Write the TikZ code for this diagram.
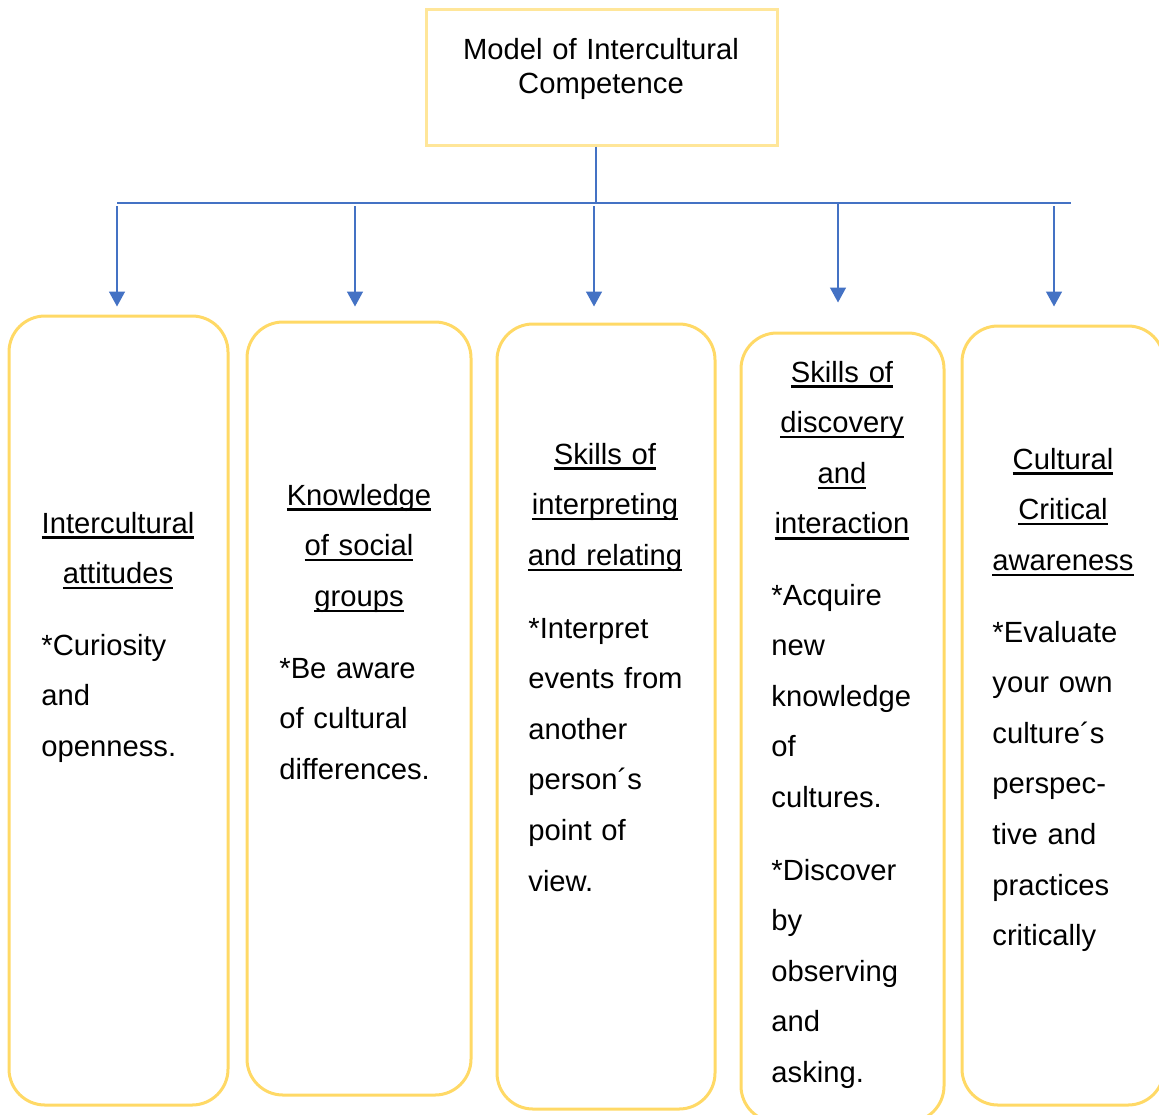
\documentclass[tikz,border=0pt]{standalone}
\usepackage{fontspec}
\setmainfont{Liberation Sans}
\usepackage{xcolor}
\usetikzlibrary{positioning,arrows.meta}

\definecolor{boxgold}{HTML}{FFD966}
\definecolor{topgold}{HTML}{FFE699}
\definecolor{linkblue}{HTML}{4472C4}

\newsavebox{\ulbox}
\newcommand{\ulword}[1]{\leavevmode\sbox\ulbox{#1}\rlap{\rule[-2.9pt]{\wd\ulbox}{1.25pt}}\usebox\ulbox}

\begin{document}
\begin{tikzpicture}[x=0.5pt,y=-0.5pt,
    compbox/.style={draw=boxgold, line width=1.5pt, rounded corners=18pt, inner sep=0pt},
    heading/.style={text width=100pt, align=center, anchor=base, inner sep=0pt,
        font=\fontsize{14.6}{25.3}\selectfont},
    bodytext/.style={text width=90pt, align=left, anchor=base west, inner sep=0pt,
        font=\fontsize{14.6}{25.3}\selectfont},
    bus/.style={draw=linkblue, line width=0.75pt},
    arr/.style={bus, -{Triangle[width=8pt,length=7.5pt]}}]
    \useasboundingbox (0,0) rectangle (1159,1114);
    \clip (0,0) rectangle (1159,1114);

    % Model at the top
    \node[draw=topgold, line width=1.5pt, minimum width=175.5pt, minimum height=68pt] (top) at (601.5,77) {};
    \node[anchor=base, text width=170pt, align=center, inner sep=0pt, font=\fontsize{14.6}{17}\selectfont] (toptxt) at (601,59)
        {Model of Intercultural\\Competence};

    % Five components
    \node[compbox, minimum width=109.5pt, minimum height=394.5pt] (b1) at (118.5,710.5) {};
    \node[compbox, minimum width=112pt, minimum height=386.5pt] (b2) at (359,708.5) {};
    \node[compbox, minimum width=109pt, minimum height=392.5pt] (b3) at (606,716.5) {};
    \node[compbox, minimum width=101.5pt, minimum height=394.5pt] (b4) at (842.5,727.5) {};
    \node[compbox, minimum width=101pt, minimum height=389.5pt] (b5) at (1063,715.5) {};

    % Attitudes
    \node[heading] (t1) at (118,533) {\ulword{Intercultural}\\\ulword{attitudes}};
    \node[bodytext] (d1) at (41,655) {*Curiosity\\and\\openness.};

    % Knowledge
    \node[heading] (t2) at (359,505) {\ulword{Knowledge}\\\ulword{of social}\\\ulword{groups}};
    \node[bodytext] (d2) at (279,678) {*Be aware\\of cultural\\differences.};

    % Interpreting and relating
    \node[heading] (t3) at (605,464) {\ulword{Skills of}\\\ulword{interpreting}\\\ulword{and relating}};
    \node[bodytext] (d3) at (528,638) {*Interpret\\events from\\another\\person´s\\point of\\view.};

    % Discovery and interaction
    \node[heading] (t4) at (842,382) {\ulword{Skills of}\\\ulword{discovery}\\\ulword{and}\\\ulword{interaction}};
    \node[bodytext] (d4) at (771,605) {*Acquire\\new\\knowledge\\of\\cultures.\\[11pt]
        *Discover\\by\\observing\\and\\asking.};

    % Critical awareness
    \node[heading] (t5) at (1063,469) {\ulword{Cultural}\\\ulword{Critical}\\\ulword{awareness}};
    \node[bodytext] (d5) at (992,642) {*Evaluate\\your own\\culture´s\\perspec-\\tive and\\practices\\critically};

    % Connectors
    \coordinate (hub) at (596,203);
    \coordinate (busl) at (117,203);
    \coordinate (busr) at (1071,203);
    \draw[bus] (top.south -| hub) -- (hub);
    \draw[bus] (busl) -- (busr);
    \foreach \i/\x/\s/\g in {1/117/4pt/1.5pt, 2/355/7pt/1.5pt, 3/594/8pt/1.5pt, 4/838/14.5pt/0pt, 5/1054/9pt/1.5pt} {
        \coordinate (a\i) at (\x,203);
        \draw[arr, shorten <=\g, shorten >=\s] (a\i) -- (a\i |- b\i.north);
    }
\end{tikzpicture}
\end{document}
